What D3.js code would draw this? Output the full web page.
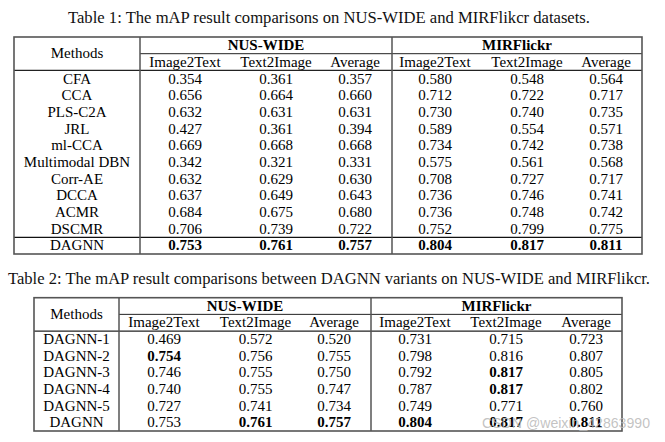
<!DOCTYPE html>
<html><head><meta charset="utf-8">
<script src="https://cdn.jsdelivr.net/npm/d3@7/dist/d3.min.js"></script>
<style>html,body{margin:0;padding:0;background:#fff;}svg{display:block;}</style>
</head><body>
<script>
// ---------- DATA ----------
const title1 = "Table 1: The mAP result comparisons on NUS-WIDE and MIRFlikcr datasets.";
const title2 = "Table 2: The mAP result comparisons between DAGNN variants on NUS-WIDE and MIRFlikcr.";
const groups = ["NUS-WIDE", "MIRFlickr"];
const subHeaders = ["Image2Text", "Text2Image", "Average"];

const methods1 = ["CFA","CCA","PLS-C2A","JRL","ml-CCA","Multimodal DBN","Corr-AE","DCCA","ACMR","DSCMR","DAGNN"];
const nusI2T1 = [0.354,0.656,0.632,0.427,0.669,0.342,0.632,0.637,0.684,0.706,0.753];
const nusT2I1 = [0.361,0.664,0.631,0.361,0.668,0.321,0.629,0.649,0.675,0.739,0.761];
const nusAvg1 = [0.357,0.660,0.631,0.394,0.668,0.331,0.630,0.643,0.680,0.722,0.757];
const mirI2T1 = [0.580,0.712,0.730,0.589,0.734,0.575,0.708,0.736,0.736,0.752,0.804];
const mirT2I1 = [0.548,0.722,0.740,0.554,0.742,0.561,0.727,0.746,0.748,0.799,0.817];
const mirAvg1 = [0.564,0.717,0.735,0.571,0.738,0.568,0.717,0.741,0.742,0.775,0.811];

const methods2 = ["DAGNN-1","DAGNN-2","DAGNN-3","DAGNN-4","DAGNN-5","DAGNN"];
const nusI2T2 = [0.469,0.754,0.746,0.740,0.727,0.753];
const nusT2I2 = [0.572,0.756,0.755,0.755,0.741,0.761];
const nusAvg2 = [0.520,0.755,0.750,0.747,0.734,0.757];
const mirI2T2 = [0.731,0.798,0.792,0.787,0.749,0.804];
const mirT2I2 = [0.715,0.816,0.817,0.817,0.771,0.817];
const mirAvg2 = [0.723,0.807,0.805,0.802,0.760,0.811];

const watermark = "CSDN @weixin_42863990";

// ---------- RENDER ----------
const W = 665, H = 442;
const svg = d3.select("body").append("svg").attr("width", W).attr("height", H)
  .style("font-family", "'Liberation Serif','Times New Roman',serif");
const fmt = d3.format(".3f");

function drawTable(cfg) {
  const g = svg.append("g");
  const nRows = cfg.methods.length + 2;
  const y = d3.scaleBand().domain(d3.range(nRows)).range([cfg.top, cfg.bottom]).paddingInner(0).paddingOuter(0);
  const bw = y.bandwidth();
  const cols = [cfg.nus[0], cfg.nus[1], cfg.nus[2], cfg.mir[0], cfg.mir[1], cfg.mir[2]];
  const xCol = d3.scaleOrdinal().domain(d3.range(6)).range(cfg.colX);

  // title
  g.append("text").attr("x", cfg.titleX).attr("y", cfg.titleY)
    .attr("font-size", 16).attr("fill", "#111")
    .attr("textLength", cfg.titleW).attr("lengthAdjust", "spacingAndGlyphs")
    .text(cfg.title);

  // inner lines
  const line = (x1, y1, x2, y2, w, c) => g.append("line").attr("x1", x1).attr("y1", y1)
    .attr("x2", x2).attr("y2", y2).attr("stroke", c).attr("stroke-width", w);
  line(cfg.sepM, y(1), cfg.right, y(1), 1, "#222");
  line(cfg.sepM, y(2), cfg.right, y(2), 1.2, "#222");
  line(cfg.left, y(2), cfg.sepM, y(2), 1.2, "#222");
  if (cfg.lastSep) line(cfg.left, y(nRows - 1), cfg.right, y(nRows - 1), 1.2, "#111");
  line(cfg.sepM, cfg.top, cfg.sepM, cfg.bottom, 1.5, "#555");
  line(cfg.sepG, cfg.top, cfg.sepG, cfg.bottom, 1.5, "#555");
  // outer border
  g.append("rect").attr("x", cfg.left).attr("y", cfg.top)
    .attr("width", cfg.right - cfg.left).attr("height", cfg.bottom - cfg.top)
    .attr("fill", "none").attr("stroke", "#555").attr("stroke-width", 1.6);

  const base = bw / 2 + 4.8;
  // headers
  g.append("text").attr("x", (cfg.left + cfg.sepM) / 2).attr("y", cfg.top + bw + 4.8)
    .attr("text-anchor", "middle").attr("font-size", 15).text("Methods");
  groups.forEach((gr, i) => {
    const x = i === 0 ? (cfg.sepM + cfg.sepG) / 2 : (cfg.sepG + cfg.right) / 2;
    g.append("text").attr("x", x).attr("y", y(0) + base).attr("text-anchor", "middle")
      .attr("font-size", 15).attr("font-weight", "bold").text(gr);
  });
  d3.range(6).forEach(c => {
    g.append("text").attr("x", xCol(c)).attr("y", y(1) + base).attr("text-anchor", "middle")
      .attr("font-size", 15).text(subHeaders[c % 3]);
  });
  // body
  cfg.methods.forEach((m, r) => {
    g.append("text").attr("x", (cfg.left + cfg.sepM) / 2).attr("y", y(r + 2) + base)
      .attr("text-anchor", "middle").attr("font-size", 15).text(m);
  });
  cols.forEach((vals, c) => {
    const mx = d3.max(vals);
    g.selectAll(null).data(vals).enter().append("text")
      .attr("x", xCol(c)).attr("y", (d, r) => y(r + 2) + base)
      .attr("text-anchor", "middle").attr("font-size", 15)
      .attr("font-weight", d => d === mx ? "bold" : "normal")
      .text(d => fmt(d));
  });
}

drawTable({
  title: title1, titleX: 68, titleY: 23, titleW: 522,
  left: 14, right: 642, top: 37, bottom: 254, sepM: 140, sepG: 392,
  colX: [185, 276, 355, 435, 527, 606],
  methods: methods1, nus: [nusI2T1, nusT2I1, nusAvg1], mir: [mirI2T1, mirT2I1, mirAvg1],
  lastSep: true
});
drawTable({
  title: title2, titleX: 8, titleY: 284, titleW: 642,
  left: 34, right: 622, top: 297.7, bottom: 431, sepM: 119, sepG: 371,
  colX: [164, 255.5, 334, 415, 506, 586],
  methods: methods2, nus: [nusI2T2, nusT2I2, nusAvg2], mir: [mirI2T2, mirT2I2, mirAvg2],
  lastSep: false
});

svg.append("text").attr("x", 482).attr("y", 428)
  .attr("font-family", "'Liberation Sans',Arial,sans-serif").attr("font-size", 15)
  .attr("textLength", 168).attr("lengthAdjust", "spacingAndGlyphs")
  .attr("fill", "#b8b8b8").attr("fill-opacity", 0.85).text(watermark);
</script>
</body></html>
